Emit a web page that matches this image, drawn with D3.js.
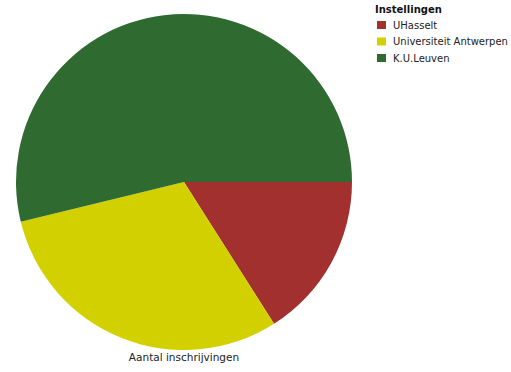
<!DOCTYPE html>
<html>
<head>
<meta charset="utf-8">
<script src="https://cdn.jsdelivr.net/npm/d3@7"></script>
<style>
  html, body { margin: 0; padding: 0; background: #fff; }
  svg { display: block; }
</style>
</head>
<body>
<svg id="chart" width="511" height="372"></svg>
<script>
// Share of enrolments per institution
const institutions = ["UHasselt", "Universiteit Antwerpen", "K.U.Leuven"];
const enrolments = [16.0, 30.2, 53.8];
const colors = ["#A1302F", "#D3D000", "#2F6A31"];
const legendTitle = "Instellingen";
const caption = "Aantal inschrijvingen";

const svg = d3.select("#chart");
const cx = 184, cy = 182, radius = 168;

const color = d3.scaleOrdinal().domain(institutions).range(colors);

// Slices run clockwise starting at 3 o'clock
const pie = d3.pie()
  .sort(null)
  .value(d => d.value)
  .startAngle(Math.PI / 2)
  .endAngle(Math.PI / 2 + 2 * Math.PI);

const arc = d3.arc().innerRadius(0).outerRadius(radius);

const data = institutions.map((name, i) => ({ name, value: enrolments[i] }));

svg.append("g")
  .attr("transform", `translate(${cx},${cy})`)
  .selectAll("path")
  .data(pie(data))
  .join("path")
  .attr("d", arc)
  .attr("fill", d => color(d.data.name));

svg.append("text")
  .attr("x", cx)
  .attr("y", 361)
  .attr("text-anchor", "middle")
  .attr("font-family", "DejaVu Sans, Verdana, sans-serif")
  .attr("font-size", 10.5)
  .attr("fill", "#222")
  .text(caption);

// Legend
const legend = svg.append("g").attr("transform", "translate(375,0)");
legend.append("text")
  .attr("x", 0)
  .attr("y", 13)
  .attr("font-family", "DejaVu Sans, Verdana, sans-serif")
  .attr("font-size", 10)
  .attr("font-weight", "bold")
  .attr("fill", "#111")
  .text(legendTitle);

const rows = legend.selectAll("g.item")
  .data(institutions)
  .join("g")
  .attr("class", "item")
  .attr("transform", (d, i) => `translate(0,${25 + i * 16.5})`);

rows.append("rect")
  .attr("x", 2)
  .attr("y", -4)
  .attr("width", 9)
  .attr("height", 8)
  .attr("fill", d => color(d));

rows.append("text")
  .attr("x", 18)
  .attr("y", 3.5)
  .attr("font-family", "DejaVu Sans, Verdana, sans-serif")
  .attr("font-size", 10)
  .attr("fill", "#222")
  .text(d => d);
</script>
</body>
</html>
